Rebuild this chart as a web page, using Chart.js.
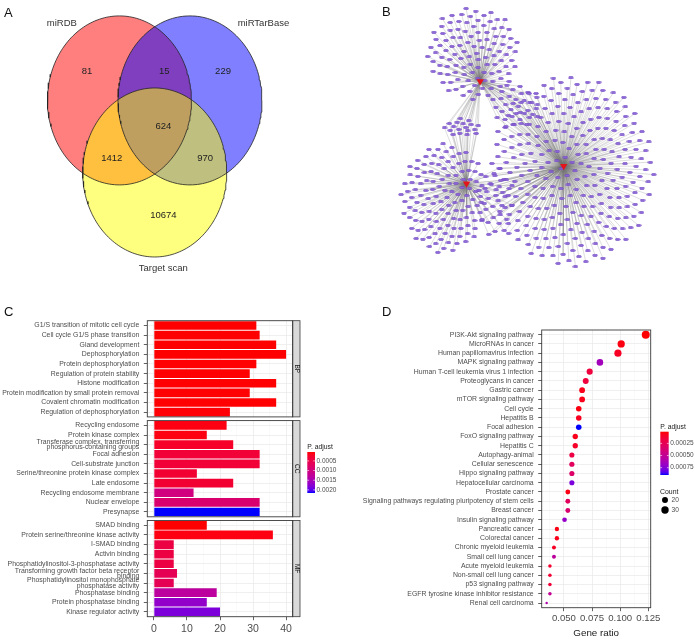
<!DOCTYPE html>
<html>
<head>
<meta charset="utf-8">
<script src="https://cdn.jsdelivr.net/npm/chart.js@4.4.1/dist/chart.umd.min.js"></script>
<style>
  html, body { margin:0; padding:0; background:#fff; }
  #fig { position:relative; width:695px; height:641px; overflow:hidden; background:#fff;
         font-family:'Liberation Sans', Arial, Helvetica, sans-serif; }
  #fig canvas { position:absolute; }
  .tag { position:absolute; font-size:13px; line-height:15px; color:#111; }
</style>
</head>
<body>
<div id="fig">
  <canvas id="venn"  width="345" height="285" style="left:0;top:0"></canvas>
  <canvas id="net"   width="350" height="285" style="left:345px;top:0"></canvas>
  <canvas id="goBP"  width="345" height="104" style="left:0;top:316px"></canvas>
  <canvas id="goCC"  width="345" height="102" style="left:0;top:418px"></canvas>
  <canvas id="goMF"  width="345" height="123" style="left:0;top:518px"></canvas>
  <canvas id="kegg"  width="350" height="356" style="left:345px;top:285px"></canvas>
  <div class="tag" style="left:4px;top:5px">A</div>
  <div class="tag" style="left:382px;top:4px">B</div>
  <div class="tag" style="left:4px;top:304px">C</div>
  <div class="tag" style="left:382px;top:304px">D</div>
</div>
<script>
  // ── DATA ──────────────────────────────────────────────────────────────────
  // A: venn of target prediction databases
  const vennSets   = ['miRDB', 'miRTarBase', 'Target scan'];
  const vennRegion = ['A', 'AB', 'B', 'AC', 'ABC', 'BC', 'C'];
  const vennCounts = [81, 15, 229, 1412, 624, 970, 10674];

  // B: miRNA-target network (3 miRNA hubs)
  const ownTargets    = [110, 130, 290];                  // targets of one hub only
  const sharedTargets = [[0, 2, 30], [1, 2, 28], [0, 1, 18]]; // hub a, hub b, targets of both

  // C: GO enrichment
  const bpTerms = ['G1/S transition of mitotic cell cycle', 'Cell cycle G1/S phase transition', 'Gland development',
    'Dephosphorylation', 'Protein dephosphorylation', 'Regulation of protein stability', 'Histone modification',
    'Protein modification by small protein removal', 'Covalent chromatin modification', 'Regulation of dephosphorylation'];
  const bpCount = [31, 32, 37, 40, 31, 29, 37, 29, 37, 23];
  const bpPadj  = [0.00004, 0.00004, 0.00004, 0.00004, 0.00005, 0.00005, 0.00005, 0.00005, 0.00005, 0.00006];

  const ccTerms = ['Recycling endosome', 'Protein kinase complex',
    ['Transferase complex, transferring', 'phosphorus-containing groups'], 'Focal adhesion', 'Cell-substrate junction',
    'Serine/threonine protein kinase complex', 'Late endosome', 'Recycling endosome membrane', 'Nuclear envelope', 'Presynapse'];
  const ccCount = [22, 16, 24, 32, 32, 13, 24, 12, 32, 32];
  const ccPadj  = [0.0001, 0.0001, 0.00025, 0.00036, 0.00036, 0.00032, 0.00032, 0.001, 0.00085, 0.00216];

  const mfTerms = ['SMAD binding', 'Protein serine/threonine kinase activity', 'I-SMAD binding', 'Activin binding',
    'Phosphatidylinositol-3-phosphatase activity', ['Transforming growth factor beta receptor', 'binding'],
    ['Phosphatidylinositol monophosphate', 'phosphatase activity'], 'Phosphatase binding', 'Protein phosphatase binding',
    'Kinase regulator activity'];
  const mfCount = [16, 36, 6, 6, 6, 7, 6, 19, 16, 20];
  const mfPadj  = [0.00004, 0.0001, 0.00046, 0.00046, 0.00046, 0.0006, 0.0006, 0.0013, 0.0017, 0.00184];

  const goTicks      = [0, 10, 20, 30, 40];
  const goMinorTicks = [5, 15, 25, 35];
  const goLegendTicks = [0.0005, 0.0010, 0.0015, 0.0020];

  // D: KEGG enrichment
  const keggTerms = ['PI3K-Akt signaling pathway', 'MicroRNAs in cancer', 'Human papillomavirus infection',
    'MAPK signaling pathway', 'Human T-cell leukemia virus 1 infection', 'Proteoglycans in cancer', 'Gastric cancer',
    'mTOR signaling pathway', 'Cell cycle', 'Hepatitis B', 'Focal adhesion', 'FoxO signaling pathway', 'Hepatitis C',
    'Autophagy-animal', 'Cellular senescence', 'Hippo signaling pathway', 'Hepatocellular carcinoma', 'Prostate cancer',
    'Signaling pathways regulating pluripotency of stem cells', 'Breast cancer', 'Insulin signaling pathway',
    'Pancreatic cancer', 'Colorectal cancer', 'Chronic myeloid leukemia', 'Small cell lung cancer',
    'Acute myeloid leukemia', 'Non-small cell lung cancer', 'p53 signaling pathway',
    'EGFR tyrosine kinase inhibitor resistance', 'Renal cell carcinoma'];
  const keggRatio = [0.1227, 0.1009, 0.0980, 0.0820, 0.0729, 0.0694, 0.0662, 0.0662, 0.0632, 0.0632, 0.0632,
    0.0601, 0.0601, 0.0571, 0.0571, 0.0571, 0.0571, 0.0535, 0.0535, 0.0535, 0.0506, 0.0438, 0.0438, 0.0412,
    0.0412, 0.0376, 0.0376, 0.0376, 0.0376, 0.0347];
  const keggCount = [35, 29, 28, 24, 21, 20, 19, 19, 18, 18, 18, 17, 17, 16, 16, 16, 16, 15, 15, 15, 14, 13, 13,
    12, 12, 11, 11, 11, 11, 10];
  const keggPadj = [0.00001, 0.000037, 0.00008, 0.00065, 0.00016, 0.00016, 0.000055, 0.000055, 0.000037, 0.00007,
    0.0009, 0.000055, 0.0001, 0.00019, 0.00028, 0.00032, 0.00077, 0.000046, 0.00028, 0.00035, 0.0007, 0.000046,
    0.000055, 0.00008, 0.00053, 0.00012, 0.00013, 0.00015, 0.0005, 0.00059];
  const keggTicks      = [0.050, 0.075, 0.100, 0.125];
  const keggMinorTicks = [0.0375, 0.0625, 0.0875, 0.1125];
  const keggLegendTicks = [0.00025, 0.00050, 0.00075];
  const countLegend    = [20, 30];

  // ── SETUP ─────────────────────────────────────────────────────────────────
  const FONT = "'Liberation Sans', Arial, Helvetica, sans-serif";
  Chart.defaults.font.family = FONT;
  Chart.defaults.animation = false;
  Chart.defaults.responsive = false;
  Chart.defaults.events = [];
  Chart.defaults.plugins.legend.display = false;
  Chart.defaults.plugins.tooltip.enabled = false;

  const AXIS_TXT = '#4d4d4d', FRAME = '#3a3a3a', GRID = '#ebebeb', GRID_MINOR = '#f5f5f5';

  // red -> blue gradient in Lab space (like ggplot's scale_color_gradient)
  function lin(c){ c/=255; return c<=0.04045 ? c/12.92 : Math.pow((c+0.055)/1.055, 2.4); }
  function unlin(c){ const v = c<=0.0031308 ? 12.92*c : 1.055*Math.pow(c,1/2.4)-0.055; return Math.round(Math.max(0,Math.min(1,v))*255); }
  function toLab([r,g,b]) {
    r=lin(r); g=lin(g); b=lin(b);
    const X=(0.4124*r+0.3576*g+0.1805*b)/0.95047, Y=0.2126*r+0.7152*g+0.0722*b, Z=(0.0193*r+0.1192*g+0.9505*b)/1.08883;
    const f=t=>t>0.008856?Math.cbrt(t):7.787*t+16/116;
    return [116*f(Y)-16, 500*(f(X)-f(Y)), 200*(f(Y)-f(Z))];
  }
  function fromLab([L,a,b]) {
    const fy=(L+16)/116, fx=fy+a/500, fz=fy-b/200;
    const inv=t=>t*t*t>0.008856?t*t*t:(t-16/116)/7.787;
    const X=inv(fx)*0.95047, Y=inv(fy), Z=inv(fz)*1.08883;
    const r=3.2406*X-1.5372*Y-0.4986*Z, g=-0.9689*X+1.8758*Y+0.0415*Z, bb=0.0557*X-0.2040*Y+1.0570*Z;
    return `rgb(${unlin(r)},${unlin(g)},${unlin(bb)})`;
  }
  const LAB_LO = toLab([255,0,0]), LAB_HI = toLab([0,0,255]);
  function ramp(t) { t=Math.max(0,Math.min(1,t)); return fromLab(LAB_LO.map((v,i)=>v+(LAB_HI[i]-v)*t)); }
  function rampFor(values) {
    const lo=Math.min(...values), hi=Math.max(...values);
    return { lo, hi, t: v=>(v-lo)/(hi-lo), color: v=>ramp((v-lo)/(hi-lo)) };
  }

  function colorbar(ctx, x, y0, y1, w, scale, ticks, fmt, title) {
    const g = ctx.createLinearGradient(0, y0, 0, y1);
    for (let k=0;k<=20;k++) g.addColorStop(k/20, ramp(k/20));
    ctx.fillStyle = g; ctx.fillRect(x, y0, w, y1-y0);
    ctx.font = `6.8px ${FONT}`; ctx.fillStyle = '#1a1a1a'; ctx.textBaseline = 'middle'; ctx.textAlign = 'left';
    ctx.fillText(title, x, y0-5);
    ctx.fillStyle = AXIS_TXT; ctx.font = `6.5px ${FONT}`;
    ticks.forEach(v => {
      const y = y0 + scale.t(v)*(y1-y0);
      ctx.strokeStyle = '#fff'; ctx.lineWidth = 0.6;
      ctx.beginPath(); ctx.moveTo(x, y); ctx.lineTo(x+1.8, y); ctx.moveTo(x+w-1.8, y); ctx.lineTo(x+w, y); ctx.stroke();
      ctx.fillText(fmt(v), x+w+1.5, y);
    });
  }

  // panel border (+ facet strip)
  const framePlugin = {
    id: 'frame',
    afterDraw(chart, args, o) {
      const {ctx, chartArea:a} = chart;
      ctx.save();
      if (o.strip) {
        ctx.fillStyle = '#d9d9d9'; ctx.fillRect(a.right, a.top, 7.3, a.bottom-a.top);
        ctx.strokeStyle = FRAME; ctx.lineWidth = 0.8; ctx.strokeRect(a.right, a.top, 7.3, a.bottom-a.top);
        ctx.translate(a.right+3.65, (a.top+a.bottom)/2); ctx.rotate(Math.PI/2);
        ctx.fillStyle = '#1a1a1a'; ctx.font = `6.5px ${FONT}`; ctx.textAlign = 'center'; ctx.textBaseline = 'middle';
        ctx.fillText(o.strip, 0, 0);
        ctx.setTransform(1,0,0,1,0,0);
      }
      ctx.strokeStyle = FRAME; ctx.lineWidth = 0.9;
      ctx.strokeRect(a.left, a.top, a.right-a.left, a.bottom-a.top);
      ctx.restore();
    }
  };

  // ── A: VENN ───────────────────────────────────────────────────────────────
  const VENN_CENTER = [[-0.49, 0.284], [0.49, 0.284], [0, -0.569]];
  const VENN_FILL   = ['rgba(255,0,0,0.5)', 'rgba(0,0,255,0.5)', 'rgba(255,255,0,0.5)'];
  const VENN_NUM_AT = {A:[-0.94,0.632], AB:[0.133,0.632], B:[0.949,0.632], AC:[-0.597,-0.40], ABC:[0.12,-0.019], BC:[0.70,-0.40], C:[0.12,-1.072]};
  const VENN_NAME_AT = [[-1.29,1.196], [1.51,1.196], [0.12,-1.70]];

  function outline(c) {
    const pts = [];
    for (let k=0;k<=180;k++){ const t=k/180*2*Math.PI; pts.push({x:c[0]+Math.cos(t), y:c[1]+Math.sin(t)}); }
    return pts;
  }
  const vennDs = [];
  vennSets.forEach((s,i)=>vennDs.push({label:s, data:outline(VENN_CENTER[i]), fill:'shape', backgroundColor:VENN_FILL[i],
    borderWidth:0, pointRadius:0, order:5-i}));
  vennSets.forEach((s,i)=>vennDs.push({label:s+' edge', data:outline(VENN_CENTER[i]), fill:false, borderColor:'#222',
    borderWidth:0.8, pointRadius:0, order:0}));

  const vennText = {
    id: 'vennText',
    afterDraw(chart) {
      const {ctx, scales:{x, y}} = chart;
      ctx.save();
      ctx.font = `9.5px ${FONT}`; ctx.fillStyle = '#222'; ctx.textAlign = 'center'; ctx.textBaseline = 'middle';
      vennCounts.forEach((n,i)=>{ const p=VENN_NUM_AT[vennRegion[i]]; ctx.fillText(String(n), x.getPixelForValue(p[0]), y.getPixelForValue(p[1])); });
      ctx.fillStyle = '#333';
      vennSets.forEach((s,i)=>ctx.fillText(s, x.getPixelForValue(VENN_NAME_AT[i][0]), y.getPixelForValue(VENN_NAME_AT[i][1])));
      ctx.restore();
    }
  };

  new Chart(document.getElementById('venn'), {
    type: 'line',
    data: { datasets: vennDs },
    options: {
      layout: { padding:0 },
      scales: {
        x: { type:'linear', display:false, min:-154.7/72, max:(345-154.7)/72 },
        y: { type:'linear', display:false, min:-(285-124.4)/84.5, max:124.4/84.5 }
      }
    },
    plugins: [vennText]
  });

  // ── B: NETWORK ────────────────────────────────────────────────────────────
  const HUB_AT      = [[134, 79], [120, 185], [220, 167]];
  const OWN_AREA    = [[127, 50, 48, 48], [97, 200, 45, 57], [228, 172, 85, 100]];
  const SHARED_AREA = [[170, 105, 26, 24], [150, 203, 19, 38], [116, 127, 19, 10]];

  function spread(n, [cx, cy, rx, ry]) {
    const pts = [];
    for (let k=0;k<n;k++){ const r=Math.sqrt((k+0.5)/n), t=k*2.399963; pts.push({x:cx+rx*r*Math.cos(t), y:cy+ry*r*Math.sin(t)}); }
    return pts;
  }
  const hubPt = h => ({x:HUB_AT[h][0], y:HUB_AT[h][1]});
  const gap = () => ({x:null, y:null});
  const netNodes = [], netEdges = [];
  ownTargets.forEach((n,h)=>spread(n, OWN_AREA[h]).forEach(p=>{ netNodes.push(p); netEdges.push(hubPt(h), p, gap()); }));
  sharedTargets.forEach(([a,b,n],k)=>spread(n, SHARED_AREA[k]).forEach(p=>{
    netNodes.push(p); netEdges.push(hubPt(a), p, gap(), hubPt(b), p, gap());
  }));

  const nodeImg = document.createElement('canvas');
  nodeImg.width = 6; nodeImg.height = 3;
  const ng = nodeImg.getContext('2d');
  ng.fillStyle = '#9068dc'; ng.strokeStyle = '#6a42bd'; ng.lineWidth = 0.6;
  ng.beginPath(); ng.ellipse(3, 1.5, 2.6, 1.1, 0, 0, 2*Math.PI); ng.fill(); ng.stroke();

  new Chart(document.getElementById('net'), {
    type: 'scatter',
    data: { datasets: [
      { label:'miRNA', data: HUB_AT.map((_,h)=>hubPt(h)), pointStyle:'triangle', rotation:180, pointRadius:4.2,
        pointBackgroundColor:'#e3141b', pointBorderWidth:0, order:0 },
      { label:'target', data: netNodes, pointStyle: nodeImg, pointRadius:3, order:1 },
      { label:'edge', data: netEdges, showLine:true, borderColor:'rgba(115,115,115,0.55)', borderWidth:0.45,
        pointRadius:0, order:2 }
    ]},
    options: {
      layout: { padding:0 },
      scales: {
        x: { type:'linear', display:false, min:0, max:350 },
        y: { type:'linear', display:false, min:0, max:285, reverse:true }
      }
    }
  });

  // ── C: GO BARS ────────────────────────────────────────────────────────────
  const goScale = rampFor([...bpPadj, ...ccPadj, ...mfPadj]);
  const goLegend = {
    id: 'goLegend',
    afterDraw(chart) {
      const {ctx} = chart;
      ctx.save();
      colorbar(ctx, 307.3, 34, 75, 7.7, goScale, goLegendTicks, v=>v.toFixed(4), 'P. adjust');
      ctx.restore();
    }
  };

  function goFacet(id, terms, counts, padj, strip, pad, bottomAxis, extra) {
    const isMajor = v => goTicks.includes(v);
    return new Chart(document.getElementById(id), {
      type: 'bar',
      data: { labels: terms, datasets: [{ data: counts, backgroundColor: padj.map(goScale.color),
        borderWidth:0, barPercentage:0.9, categoryPercentage:1 }] },
      options: {
        indexAxis: 'y',
        layout: { padding: pad },
        scales: {
          x: {
            type:'linear', min:-2, max:42,
            afterBuildTicks: s => { s.ticks = [...goTicks, ...goMinorTicks].sort((a,b)=>a-b).map(v=>({value:v})); },
            afterFit: s => { s.height = bottomAxis ? 24.3 : 0; s.paddingLeft = 0; s.paddingRight = 0; },
            border: { display:false },
            grid: { color: c => isMajor(c.tick.value) ? GRID : GRID_MINOR, lineWidth: c => isMajor(c.tick.value) ? 0.8 : 0.5,
                    drawTicks: bottomAxis, tickLength:3.5, tickWidth:0.8,
                    tickColor: c => isMajor(c.tick.value) ? FRAME : 'rgba(0,0,0,0)' },
            ticks: { display: bottomAxis, autoSkip:false, maxRotation:0, padding:2.5, color:AXIS_TXT,
                     font:{ size:10.5 }, callback: v => isMajor(v) ? String(v) : '' }
          },
          y: {
            type:'category', offset:true,
            afterFit: s => { s.width = 147.3; s.paddingTop = 0; s.paddingBottom = 0; },
            border: { display:false },
            grid: { offset:false, color:GRID, lineWidth:0.8, tickLength:3.5, tickColor:FRAME, tickWidth:0.8 },
            ticks: { autoSkip:false, padding:4.5, color:AXIS_TXT, font:{ size:6.9, lineHeight:0.8 } }
          }
        },
        plugins: { frame: { strip } }
      },
      plugins: extra ? [framePlugin, extra] : [framePlugin]
    });
  }
  goFacet('goBP', bpTerms, bpCount, bpPadj, 'BP', {top:4.7, bottom:3.1, left:0, right:52.3}, false);
  goFacet('goCC', ccTerms, ccCount, ccPadj, 'CC', {top:2.6, bottom:3.2, left:0, right:52.3}, false, goLegend);
  goFacet('goMF', mfTerms, mfCount, mfPadj, 'MF', {top:2.5, bottom:0, left:0, right:52.3}, true);

  // ── D: KEGG DOTS ──────────────────────────────────────────────────────────
  const keggScale = rampFor(keggPadj);
  const cMin = Math.min(...keggCount), cMax = Math.max(...keggCount);
  const dotR = c => 1.2 + 2.8*Math.sqrt((c-cMin)/(cMax-cMin));

  const keggLegend = {
    id: 'keggLegend',
    afterDraw(chart) {
      const {ctx} = chart;
      ctx.save();
      colorbar(ctx, 315.3, 146.7, 190, 8.4, keggScale, keggLegendTicks, v=>v.toFixed(5), 'P. adjust');
      ctx.font = `6.9px ${FONT}`; ctx.fillStyle = '#1a1a1a'; ctx.textAlign = 'left'; ctx.textBaseline = 'middle';
      ctx.fillText('Count', 315, 206.7);
      countLegend.forEach((c,i)=>{
        const y = 215 + i*10;
        ctx.fillStyle = '#000'; ctx.beginPath(); ctx.arc(320, y, dotR(c), 0, 2*Math.PI); ctx.fill();
        ctx.fillStyle = AXIS_TXT; ctx.font = `6.6px ${FONT}`; ctx.fillText(String(c), 326.5, y);
      });
      ctx.restore();
    }
  };

  const isKeggMajor = v => keggTicks.some(t=>Math.abs(t-v)<1e-9);
  new Chart(document.getElementById('kegg'), {
    type: 'scatter',
    data: { datasets: [{ data: keggRatio.map((r,i)=>({x:r, y:keggTerms[i]})),
      pointRadius: keggCount.map(dotR), pointBackgroundColor: keggPadj.map(keggScale.color), pointBorderWidth:0 }] },
    options: {
      layout: { padding: {top:45, right:44.3, left:0, bottom:0} },
      scales: {
        x: {
          type:'linear', min:0.0303, max:0.1271,
          afterBuildTicks: s => { s.ticks = [...keggTicks, ...keggMinorTicks].sort((a,b)=>a-b).map(v=>({value:v})); },
          afterFit: s => { s.height = 33.3; s.paddingLeft = 0; s.paddingRight = 0; },
          border: { display:false },
          grid: { color: c => isKeggMajor(c.tick.value) ? GRID : GRID_MINOR, lineWidth: c => isKeggMajor(c.tick.value) ? 0.8 : 0.5,
                  tickLength:3.5, tickWidth:0.8, tickColor: c => isKeggMajor(c.tick.value) ? FRAME : 'rgba(0,0,0,0)' },
          ticks: { autoSkip:false, maxRotation:0, padding:1.5, color:AXIS_TXT, font:{ size:9.6 },
                   callback: v => isKeggMajor(v) ? v.toFixed(3) : '' },
          title: { display:true, text:'Gene ratio', color:'#1a1a1a', font:{ size:9.8 }, padding:{top:2, bottom:2} }
        },
        y: {
          type:'category', labels: keggTerms, offset:true,
          afterFit: s => { s.width = 196.7; s.paddingTop = 0; s.paddingBottom = 0; },
          border: { display:false },
          grid: { offset:false, color:GRID, lineWidth:0.8, tickLength:3.5, tickColor:FRAME, tickWidth:0.8 },
          ticks: { autoSkip:false, padding:4.5, color:AXIS_TXT, font:{ size:6.9 } }
        }
      },
      plugins: { frame: {} }
    },
    plugins: [framePlugin, keggLegend]
  });
</script>
</body>
</html>
